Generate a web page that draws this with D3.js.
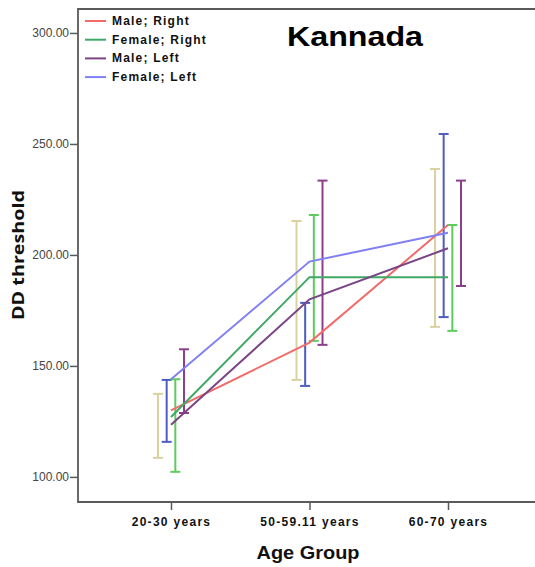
<!DOCTYPE html>
<html>
<head>
<meta charset="utf-8">
<script src="https://cdn.jsdelivr.net/npm/d3@7"></script>
<style>
  body { margin: 0; background: #fff; }
  svg { display: block; }
</style>
</head>
<body>
<svg id="chart" width="535" height="567"></svg>
<script>
// data
var ageGroups = ["20-30 years", "50-59.11 years", "60-70 years"];
var yTicks = [100, 150, 200, 250, 300];

// mean lines
var seriesNames = ["Male; Right", "Female; Right", "Male; Left", "Female; Left"];
var maleRight = [130, 160.5, 213.5];
var femaleRight = [127, 190, 190];
var maleLeft = [123.5, 180, 203];
var femaleLeft = [144, 197, 210];
var lineColors = ["#f26b6b", "#3fa866", "#7a4585", "#8080f4"];

// error bars (dodged inside each group)
var errNames = ["tan", "blue", "green", "purple"];
var errLow = [[108.6, 143.7, 167.6], [115.8, 141, 172], [102.3, 161.3, 165.8], [128.8, 159.5, 186]];
var errHigh = [[137.4, 215.3, 238.7], [143.7, 178.4, 254.5], [144, 218, 213.5], [157.5, 233.5, 233.5]];
var errColors = ["#d8d2a0", "#4d5cc0", "#5ccd5c", "#8c3f8c"];

var svg = d3.select("#chart");
var plotLeft = 78, plotTop = 9, plotRight = 535, plotBottom = 502;

var x = d3.scalePoint().domain(ageGroups).range([171, 448]);
var dodge = d3.scalePoint().domain(errNames).range([-13, 13]);
var y = d3.scaleLinear().domain([88.7, 310.8]).range([plotBottom, plotTop]);

var allLines = [maleRight, femaleRight, maleLeft, femaleLeft];

// frame
svg.append("path")
  .attr("d", "M" + plotRight + "," + plotTop + "H" + plotLeft + "V" + plotBottom + "H" + plotRight)
  .attr("fill", "none")
  .attr("stroke", "#5a5a5a")
  .attr("stroke-width", 1.8);

// y axis
var yAxis = svg.append("g")
  .attr("transform", "translate(" + plotLeft + ",0)")
  .call(d3.axisLeft(y).tickValues(yTicks).tickSize(8).tickFormat(d3.format(".2f")));
yAxis.select(".domain").remove();
yAxis.selectAll("line").attr("stroke", "#5a5a5a").attr("stroke-width", 1.5);
yAxis.selectAll("text")
  .attr("font-family", "Liberation Sans, Arial, sans-serif")
  .attr("font-size", 12)
  .attr("fill", "#444")
  .attr("x", -9);

// x axis
var xAxis = svg.append("g")
  .attr("transform", "translate(0," + plotBottom + ")")
  .call(d3.axisBottom(x).tickSize(8));
xAxis.select(".domain").remove();
xAxis.selectAll("line").attr("stroke", "#5a5a5a").attr("stroke-width", 1.5);
xAxis.selectAll("text")
  .attr("font-family", "Liberation Sans, Arial, sans-serif")
  .attr("font-size", 12)
  .attr("font-weight", "bold")
  .attr("letter-spacing", 1.3)
  .attr("fill", "#111")
  .attr("y", 15);

// error bars
errNames.forEach(function(name, i) {
  var g = svg.append("g")
    .attr("stroke", errColors[i])
    .attr("stroke-width", 2)
    .attr("fill", "none");
  ageGroups.forEach(function(a, j) {
    var cx = x(a) + dodge(name);
    var lo = y(errLow[i][j]), hi = y(errHigh[i][j]);
    g.append("line").attr("x1", cx).attr("x2", cx).attr("y1", lo).attr("y2", hi);
    g.append("line").attr("x1", cx - 5).attr("x2", cx + 5).attr("y1", lo).attr("y2", lo);
    g.append("line").attr("x1", cx - 5).attr("x2", cx + 5).attr("y1", hi).attr("y2", hi);
  });
});

// mean lines
var line = d3.line()
  .x(function(d, j) { return x(ageGroups[j]); })
  .y(function(d) { return y(d); });

allLines.forEach(function(vals, i) {
  svg.append("path")
    .datum(vals)
    .attr("d", line)
    .attr("fill", "none")
    .attr("stroke", lineColors[i])
    .attr("stroke-width", 2);
});

// legend
var legend = svg.append("g");
seriesNames.forEach(function(name, i) {
  var ly = 21 + i * 18.7;
  legend.append("line")
    .attr("x1", 85).attr("x2", 106)
    .attr("y1", ly).attr("y2", ly)
    .attr("stroke", lineColors[i])
    .attr("stroke-width", 2);
  legend.append("text")
    .attr("x", 112).attr("y", ly + 4)
    .attr("font-family", "Liberation Sans, Arial, sans-serif")
    .attr("font-size", 12)
    .attr("font-weight", "bold")
    .attr("letter-spacing", 1.2)
    .attr("fill", "#111")
    .text(name);
});

// title
svg.append("text")
  .attr("x", 355).attr("y", 46)
  .attr("text-anchor", "middle")
  .attr("font-family", "Liberation Sans, Arial, sans-serif")
  .attr("font-size", 27)
  .attr("font-weight", "bold")
  .attr("textLength", 136)
  .attr("lengthAdjust", "spacingAndGlyphs")
  .text("Kannada");

// axis titles
svg.append("text")
  .attr("x", 308).attr("y", 559)
  .attr("text-anchor", "middle")
  .attr("font-family", "Liberation Sans, Arial, sans-serif")
  .attr("font-size", 18)
  .attr("font-weight", "bold")
  .attr("textLength", 103)
  .attr("lengthAdjust", "spacingAndGlyphs")
  .attr("fill", "#111")
  .text("Age Group");

svg.append("text")
  .attr("transform", "translate(24,255) rotate(-90)")
  .attr("text-anchor", "middle")
  .attr("font-family", "Open Sans, sans-serif")
  .attr("font-size", 16)
  .attr("font-weight", "bold")
  .attr("textLength", 130)
  .attr("lengthAdjust", "spacingAndGlyphs")
  .attr("fill", "#111")
  .text("DD threshold");
</script>
</body>
</html>
